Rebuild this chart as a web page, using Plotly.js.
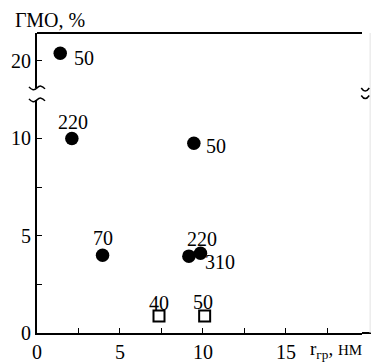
<!DOCTYPE html>
<html>
<head>
<meta charset="utf-8">
<script src="https://cdn.plot.ly/plotly-3.0.1.min.js"></script>
<style>html,body{margin:0;padding:0;background:#fff}#chart{width:371px;height:362px}</style>
</head>
<body>
<div id="chart"></div>
<script>
// Data
var circleUpperX = [1.4];
var circleUpperY = [20.4];
var circleUpperLabels = ['50'];

var circleX = [2.1, 9.45, 3.95, 9.15, 9.85];
var circleY = [10.0, 9.75, 4.0, 3.95, 4.1];
var circleLabels = ['220', '50', '70', '220', '310'];

var squareX = [7.35, 10.1];
var squareY = [0.88, 0.88];
var squareLabels = ['40', '50'];

var xTicks = [0, 5, 10, 15];
var xMinor = [2.5, 7.5, 12.5, 17.5];
var yTicks = [0, 5, 10];
var yMinor = [2.5, 7.5];
var yUpperTicks = [20];

// label offsets (pixels) – layout only
var upperShift = [[24, -5]];
var circleShift = [[1, 16], [22, -3], [0, 17], [13, 17], [19, -9]];
var squareShift = [[0, 13], [-2, 14]];

var FONT = 'Liberation Serif, Times New Roman, serif';

var traces = [
  {x: circleUpperX, y: circleUpperY, xaxis: 'x', yaxis: 'y2', mode: 'markers', type: 'scatter',
   marker: {symbol: 'circle', size: 13.5, color: '#000'}, cliponaxis: false, hoverinfo: 'none'},
  {x: circleX, y: circleY, xaxis: 'x', yaxis: 'y', mode: 'markers', type: 'scatter',
   marker: {symbol: 'circle', size: 13.5, color: '#000'}, cliponaxis: false, hoverinfo: 'none'},
  {x: squareX, y: squareY, xaxis: 'x', yaxis: 'y', mode: 'markers', type: 'scatter',
   marker: {symbol: 'square-open', size: 11, color: '#000', line: {width: 2, color: '#000'}}, cliponaxis: false, hoverinfo: 'none'}
];

var annotations = [];
function addLabels(xs, ys, labels, shifts, yref) {
  for (var i = 0; i < xs.length; i++) {
    annotations.push({x: xs[i], y: ys[i], xref: 'x', yref: yref, text: labels[i], showarrow: false,
      xshift: shifts[i][0], yshift: shifts[i][1], font: {family: FONT, size: 20, color: '#000'}});
  }
}
addLabels(circleUpperX, circleUpperY, circleUpperLabels, upperShift, 'y2');
addLabels(circleX, circleY, circleLabels, circleShift, 'y');
addLabels(squareX, squareY, squareLabels, squareShift, 'y');

annotations.push({xref: 'paper', yref: 'paper', x: -0.074, y: 1.045, xanchor: 'left', yanchor: 'middle',
  text: 'ГМО, %', showarrow: false, font: {family: FONT, size: 20, color: '#000'}});
annotations.push({xref: 'paper', yref: 'paper', x: 0.835, y: -0.057, xanchor: 'left', yanchor: 'middle',
  text: 'r<sub>гр</sub>, <span style="font-size:15px">НМ</span>', showarrow: false, font: {family: FONT, size: 19, color: '#000'}});

var wave = 'M -8 1 Q -4 -4 0 0 T 8 -1';
var arc = 'M -4 2 Q 0 -4 4 2';
var shapes = [
  {type: 'line', xref: 'paper', yref: 'paper', x0: 0, x1: 1, y0: 1, y1: 1, line: {color: '#000', width: 2}},
  {type: 'line', xref: 'paper', yref: 'paper', x0: 1, x1: 1.03, y0: 0, y1: 0, line: {color: '#000', width: 2}},
  {type: 'line', xref: 'paper', yref: 'paper', x0: 1.025, x1: 1.025, y0: 0, y1: 1.0, line: {color: '#e2e2e2', width: 1}},
  {type: 'path', xref: 'paper', yref: 'paper', xsizemode: 'pixel', ysizemode: 'pixel', xanchor: 0, yanchor: 0.817,
   path: wave, line: {color: '#000', width: 1.5}},
  {type: 'path', xref: 'paper', yref: 'paper', xsizemode: 'pixel', ysizemode: 'pixel', xanchor: 0, yanchor: 0.777,
   path: wave, line: {color: '#000', width: 1.5}},
  {type: 'path', xref: 'paper', yref: 'paper', xsizemode: 'pixel', ysizemode: 'pixel', xanchor: 1.01, yanchor: 0.81,
   path: arc, line: {color: '#000', width: 1.5}},
  {type: 'path', xref: 'paper', yref: 'paper', xsizemode: 'pixel', ysizemode: 'pixel', xanchor: 1.01, yanchor: 0.785,
   path: arc, line: {color: '#000', width: 1.5}}
];

var tickFont = {family: FONT, size: 20, color: '#000'};
var layout = {
  width: 371, height: 362,
  margin: {l: 37, r: 9, t: 33, b: 29, pad: 0},
  paper_bgcolor: '#fff', plot_bgcolor: '#fff',
  showlegend: false,
  font: {family: FONT, size: 20, color: '#000'},
  xaxis: {range: [0, 19.58], domain: [0, 1], anchor: 'y', showline: true, linewidth: 2, linecolor: '#000',
    ticks: 'inside', ticklen: 5, tickwidth: 1, tickcolor: '#000', tickvals: xTicks, ticktext: xTicks.map(String),
    minor: {tickvals: xMinor, ticks: 'inside', ticklen: 5, tickwidth: 1, tickcolor: '#000'},
    showgrid: false, zeroline: false, tickfont: tickFont, fixedrange: true},
  yaxis: {domain: [0, 0.777], range: [0, 11.98], anchor: 'x', showline: true, linewidth: 2, linecolor: '#000',
    ticks: 'inside', ticklen: 5, tickwidth: 1, tickcolor: '#000', tickvals: yTicks, ticktext: yTicks.map(String),
    minor: {tickvals: yMinor, ticks: 'inside', ticklen: 5, tickwidth: 1, tickcolor: '#000'},
    showgrid: false, zeroline: false, tickfont: tickFont, fixedrange: true},
  yaxis2: {domain: [0.817, 1], range: [18.61, 21.44], anchor: 'x', showline: true, linewidth: 2, linecolor: '#000',
    ticks: 'inside', ticklen: 5, tickwidth: 1, tickcolor: '#000', tickvals: yUpperTicks, ticktext: yUpperTicks.map(String),
    showgrid: false, zeroline: false, tickfont: tickFont, fixedrange: true},
  annotations: annotations,
  shapes: shapes
};

Plotly.newPlot('chart', traces, layout, {staticPlot: true, displayModeBar: false});
</script>
</body>
</html>
